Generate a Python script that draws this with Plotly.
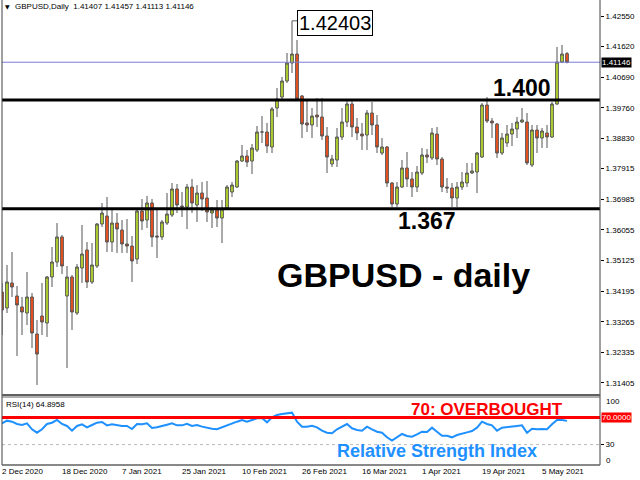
import plotly.graph_objects as go
import pandas as pd

# ---------------- data ----------------
trading_days = [d for d in pd.bdate_range("2020-12-02", "2021-05-12")
                if d not in (pd.Timestamp("2020-12-25"), pd.Timestamp("2021-01-01"))]
dates = [d.strftime("%Y-%m-%d") for d in trading_days]

opens = [1.34168, 1.33682, 1.34442, 1.34047, 1.33713, 1.33530, 1.34016, 1.32893, 1.33439, 1.33226,
         1.34624, 1.35079, 1.35839, 1.34047, 1.34624, 1.33530, 1.34897, 1.35444, 1.34472, 1.34958,
         1.36233, 1.36476, 1.35686, 1.36263, 1.36051, 1.35626, 1.35565, 1.35170, 1.36628, 1.36354,
         1.36871, 1.35869, 1.35839, 1.36263, 1.36506, 1.37296, 1.36780, 1.36749, 1.37357, 1.36810,
         1.37174, 1.37023, 1.36567, 1.36658, 1.36415, 1.36719, 1.37205, 1.37357, 1.38146, 1.38298,
         1.38146, 1.38481, 1.39027, 1.39027, 1.38572, 1.39756, 1.40090, 1.40576, 1.41123, 1.41396,
         1.40121, 1.39301, 1.39240, 1.39543, 1.39483, 1.38906, 1.38055, 1.38177, 1.38875, 1.39331,
         1.39878, 1.39179, 1.38966, 1.38936, 1.39604, 1.39240, 1.38389, 1.38572, 1.37478, 1.36840,
         1.37357, 1.37934, 1.37600, 1.37357, 1.37782, 1.38329, 1.38238, 1.38966, 1.38207, 1.37357,
         1.37326, 1.37023, 1.37357, 1.37478, 1.37782, 1.37812, 1.38268, 1.39847, 1.39361, 1.39270,
         1.38389, 1.38693, 1.38966, 1.39118, 1.39331, 1.39331, 1.38025, 1.39088, 1.38845, 1.38997,
         1.38875, 1.39878, 1.41153, 1.41407]
highs = [1.34442, 1.34988, 1.35383, 1.34351, 1.34016, 1.34776, 1.34138, 1.33318, 1.34442, 1.34654,
         1.35535, 1.36263, 1.35899, 1.34958, 1.34685, 1.35019, 1.36203, 1.35686, 1.35656, 1.36263,
         1.36871, 1.37053, 1.36658, 1.36567, 1.36354, 1.36385, 1.35869, 1.36658, 1.36992, 1.37083,
         1.36992, 1.36658, 1.36354, 1.37174, 1.37478, 1.37448, 1.37205, 1.37448, 1.37600, 1.37417,
         1.37509, 1.37539, 1.36749, 1.36962, 1.36962, 1.37417, 1.37509, 1.38177, 1.38632, 1.38481,
         1.38663, 1.39209, 1.39513, 1.39301, 1.39786, 1.40363, 1.40698, 1.41426, 1.42403, 1.41821,
         1.40151, 1.39999, 1.39756, 1.40060, 1.40060, 1.39179, 1.38329, 1.39149, 1.39756, 1.39999,
         1.39999, 1.39452, 1.39301, 1.39695, 1.39938, 1.39543, 1.38845, 1.38602, 1.37509, 1.37509,
         1.38177, 1.38420, 1.37812, 1.37995, 1.38541, 1.38511, 1.39149, 1.39179, 1.38268, 1.37630,
         1.37478, 1.37509, 1.37812, 1.38086, 1.38086, 1.38420, 1.39908, 1.40090, 1.39452, 1.39301,
         1.38997, 1.39240, 1.39301, 1.39483, 1.39756, 1.39604, 1.39240, 1.39240, 1.39149, 1.39240,
         1.39938, 1.41609, 1.41669, 1.41457]
lows = [1.32862, 1.33530, 1.34016, 1.32225, 1.32862, 1.33166, 1.32467, 1.31344, 1.32862, 1.32802,
        1.34320, 1.34927, 1.34715, 1.31860, 1.33014, 1.33470, 1.34442, 1.34290, 1.34411, 1.34897,
        1.36142, 1.35383, 1.35383, 1.35353, 1.35353, 1.35353, 1.34472, 1.35019, 1.36051, 1.36112,
        1.35535, 1.35201, 1.35747, 1.36203, 1.36446, 1.36567, 1.36446, 1.36081, 1.36567, 1.36294,
        1.36628, 1.36294, 1.36112, 1.36142, 1.35656, 1.36658, 1.37053, 1.37326, 1.38116, 1.37964,
        1.37752, 1.38420, 1.38693, 1.38389, 1.38389, 1.39483, 1.39999, 1.40515, 1.40819, 1.39999,
        1.38845, 1.39027, 1.38845, 1.39179, 1.38784, 1.37782, 1.37964, 1.37964, 1.38784, 1.39179,
        1.38875, 1.38784, 1.38481, 1.38481, 1.38936, 1.38389, 1.38329, 1.37357, 1.36749, 1.36749,
        1.37326, 1.37357, 1.37053, 1.37205, 1.37721, 1.38086, 1.38177, 1.38025, 1.37205, 1.37174,
        1.36749, 1.36749, 1.37266, 1.37357, 1.37752, 1.37174, 1.38238, 1.39301, 1.38845, 1.38238,
        1.38329, 1.38572, 1.38602, 1.38845, 1.39301, 1.38025, 1.37964, 1.38389, 1.38541, 1.38541,
        1.38845, 1.39847, 1.41123, 1.41113]
closes = [1.33622, 1.34472, 1.34320, 1.33773, 1.33561, 1.34016, 1.32923, 1.32285, 1.33257, 1.34624,
          1.35079, 1.35839, 1.34958, 1.34624, 1.33561, 1.34927, 1.35322, 1.34472, 1.34988, 1.36233,
          1.36567, 1.35686, 1.36263, 1.36081, 1.35626, 1.35565, 1.35110, 1.36628, 1.36324, 1.36871,
          1.35839, 1.35839, 1.36294, 1.36537, 1.37296, 1.36810, 1.36749, 1.37357, 1.36871, 1.37174,
          1.36992, 1.36597, 1.36658, 1.36415, 1.36689, 1.37357, 1.37417, 1.38146, 1.38298, 1.38116,
          1.38541, 1.39027, 1.39027, 1.38602, 1.39726, 1.40029, 1.40576, 1.41123, 1.41396, 1.40029,
          1.39270, 1.39240, 1.39513, 1.39483, 1.38906, 1.38268, 1.38207, 1.38875, 1.39331, 1.39878,
          1.39179, 1.38997, 1.38906, 1.39604, 1.39240, 1.38572, 1.38572, 1.37478, 1.36840, 1.37357,
          1.37934, 1.37600, 1.37357, 1.37812, 1.38329, 1.38268, 1.38997, 1.38207, 1.37357, 1.37326,
          1.37023, 1.37357, 1.37509, 1.37782, 1.37843, 1.38389, 1.39847, 1.39361, 1.39301, 1.38389,
          1.38845, 1.38966, 1.39118, 1.39331, 1.39392, 1.38086, 1.39088, 1.38845, 1.39058, 1.38875,
          1.39878, 1.41153, 1.41396, 1.41146]

rsi = [61.3, 65.2, 63.7, 60.3, 58.8, 61.3, 52.5, 47.5, 52.5, 60.3,
       62.2, 66.2, 60.3, 57.4, 50.5, 57.4, 59.8, 55.4, 58.8, 62.2,
       63.2, 58.3, 59.8, 58.3, 57.4, 57.4, 52.9, 60.3, 59.8, 61.3,
       54.4, 55.4, 57.8, 59.3, 61.3, 58.3, 58.3, 60.7, 57.4, 58.8,
       56.4, 54.4, 53.4, 52.5, 55.4, 58.8, 60.7, 63.7, 66.2, 63.7,
       66.2, 68.6, 69.1, 62.7, 70.1, 73.5, 75.0, 76.0, 77.0, 63.7,
       56.4, 56.4, 57.8, 55.4, 50.5, 47.5, 46.6, 52.5, 56.4, 60.3,
       54.0, 51.5, 50.5, 56.4, 52.5, 49.0, 47.5, 40.7, 35.8, 40.2,
       45.6, 42.6, 41.7, 45.1, 49.0, 48.5, 54.9, 49.0, 43.1, 43.0,
       40.7, 44.1, 46.6, 48.0, 50.0, 54.9, 63.7, 60.3, 58.3, 50.5,
       54.9, 55.4, 56.4, 57.4, 58.3, 47.5, 53.4, 52.5, 52.9, 52.5,
       59.8, 66.2, 66.2, 64.8958]

date_tick_vals = ["2020-12-02", "2020-12-18", "2021-01-07", "2021-01-25", "2021-02-10",
                  "2021-02-26", "2021-03-16", "2021-04-01", "2021-04-19", "2021-05-05"]
date_tick_text = ["2 Dec 2020", "18 Dec 2020", "7 Jan 2021", "25 Jan 2021", "10 Feb 2021",
                  "26 Feb 2021", "16 Mar 2021", "1 Apr 2021", "19 Apr 2021", "5 May 2021"]
price_ticks = [1.42550, 1.41620, 1.40690, 1.39760, 1.38830, 1.37915, 1.36985,
               1.36055, 1.35125, 1.34195, 1.33265, 1.32335, 1.31405]
price_tick_text = [f"{v:.5f}" for v in price_ticks]

resistance = 1.400
support = 1.367
peak_high = 1.42403
last_price = 1.41146
rsi_overbought = 70
rsi_oversold = 30

# ---------------- layout helpers (pixel -> paper) ----------------
W, H = 640, 480
L, R, T, B = 2, 40, 0, 15
PW, PH = W - L - R, H - T - B
def px(x):
    return (x - L) / PW
def py(y):
    return (H - B - y) / PH

MAIN_BOTTOM = py(395)
RSI_TOP = py(397)

FONT = "Liberation Sans, Arial, sans-serif"
BULL = "#B8DC2C"
BEAR = "#F8501A"
OUTLINE = "#555555"
RSI_BLUE = "#1E90FF"

fig = go.Figure()
fig.add_trace(go.Candlestick(
    x=dates, open=opens, high=highs, low=lows, close=closes,
    increasing=dict(fillcolor=BULL, line=dict(color=OUTLINE, width=1)),
    decreasing=dict(fillcolor=BEAR, line=dict(color=OUTLINE, width=1)),
    whiskerwidth=0, xaxis="x", yaxis="y", hoverinfo="skip", showlegend=False))
fig.add_trace(go.Scatter(
    x=dates, y=rsi, mode="lines", line=dict(color=RSI_BLUE, width=2),
    xaxis="x2", yaxis="y2", hoverinfo="skip", showlegend=False))

shapes = [
    dict(type="line", xref="paper", yref="y", x0=0, x1=1, y0=last_price, y1=last_price,
         line=dict(color="#7B7BD6", width=1)),
    dict(type="line", xref="paper", yref="y", x0=0, x1=1, y0=resistance, y1=resistance,
         line=dict(color="black", width=3)),
    dict(type="line", xref="paper", yref="y", x0=0, x1=1, y0=support, y1=support,
         line=dict(color="black", width=3)),
    dict(type="line", xref="x", yref="y", x0=58, x1=59.6, y0=peak_high, y1=peak_high,
         line=dict(color="#606060", width=1)),
    dict(type="line", xref="paper", yref="y2", x0=0, x1=1, y0=rsi_oversold, y1=rsi_oversold,
         line=dict(color="#BBBBBB", width=1, dash="dot")),
    dict(type="line", xref="paper", yref="y2", x0=0, x1=1, y0=rsi_overbought, y1=rsi_overbought,
         line=dict(color="#FF0000", width=3)),
    # frames
    dict(type="line", xref="paper", yref="paper", x0=0, x1=0, y0=0, y1=1,
         line=dict(color="#404040", width=1)),
    dict(type="line", xref="paper", yref="paper", x0=1, x1=1, y0=0, y1=1,
         line=dict(color="#404040", width=1)),
    dict(type="line", xref="paper", yref="paper", x0=0, x1=1, y0=MAIN_BOTTOM, y1=MAIN_BOTTOM,
         line=dict(color="#606060", width=2)),
    dict(type="line", xref="paper", yref="paper", x0=0, x1=1, y0=RSI_TOP, y1=RSI_TOP,
         line=dict(color="#606060", width=1)),
    dict(type="line", xref="paper", yref="paper", x0=0, x1=1, y0=0, y1=0,
         line=dict(color="#606060", width=1.5)),
]

ann = []
def text(x, y, s, size, color="black", bold=False, xanchor="center", **kw):
    d = dict(xref="paper", yref="paper", x=px(x), y=py(y), text=(f"<b>{s}</b>" if bold else s),
             showarrow=False, xanchor=xanchor, yanchor="middle",
             font=dict(family=FONT, size=size, color=color))
    d.update(kw)
    ann.append(d)

text(3, 7, "▼", 7, xanchor="left", font=dict(family="DejaVu Sans", size=6, color="black"))
text(13, 7, "GBPUSD,Daily  1.41407 1.41457 1.41113 1.41146", 8, xanchor="left")
text(4, 404, "RSI(14) 64.8958", 8, xanchor="left")
text(334.5, 23, f"{peak_high:.5f}", 20, bordercolor="black", borderwidth=1, bgcolor="white", borderpad=1)
text(522, 88, f"{resistance:.3f}", 23, bold=True)
text(427, 221, f"{support:.3f}", 23, bold=True)
text(403, 275, "GBPUSD - daily", 34, bold=True)
text(487, 409, "70: OVERBOUGHT", 17, color="#FF0000", bold=True)
text(437, 451, "Relative Strength Index", 18, color=RSI_BLUE, bold=True)
text(604, 401.5, "100", 8, xanchor="left")
text(604, 460, "0", 8, xanchor="left")
ann.append(dict(xref="paper", yref="y", x=1, y=last_price, xanchor="left", yanchor="middle",
                xshift=1, text=f"{last_price:.5f}", showarrow=False, bgcolor="black", borderpad=0,
                font=dict(family=FONT, size=8, color="white")))
ann.append(dict(xref="paper", yref="y2", x=1, y=rsi_overbought, xanchor="left", yanchor="middle",
                xshift=1, text="70.0000", showarrow=False, bgcolor="#FF0000", borderpad=0,
                font=dict(family=FONT, size=8, color="white")))

fig.update_layout(
    width=W, height=H, margin=dict(l=L, r=R, t=T, b=B, autoexpand=False),
    paper_bgcolor="white", plot_bgcolor="white", showlegend=False,
    boxgap=0.22,
    font=dict(family=FONT, size=8, color="black"),
    xaxis=dict(type="category", range=[0, 119.6], domain=[0, 1], anchor="y",
               showticklabels=False, showgrid=False, zeroline=False, showline=False,
               rangeslider=dict(visible=False), ticks=""),
    xaxis2=dict(type="category", matches="x", anchor="y2", domain=[0, 1],
                tickvals=date_tick_vals, ticktext=date_tick_text,
                ticklabelposition="outside right", ticks="", showgrid=False, zeroline=False,
                tickfont=dict(family=FONT, size=8, color="black")),
    yaxis=dict(domain=[MAIN_BOTTOM, 1], range=[1.3104, 1.43036], side="right", anchor="x",
               tickvals=price_ticks, ticktext=price_tick_text, ticks="outside", ticklen=3,
               tickcolor="black", showgrid=False, zeroline=False,
               tickfont=dict(family=FONT, size=8, color="black")),
    yaxis2=dict(domain=[0, RSI_TOP], range=[0, 100], side="right", anchor="x2",
                tickvals=[rsi_oversold], ticktext=["30"], ticks="outside", ticklen=3,
                tickcolor="black", showgrid=False, zeroline=False,
                tickfont=dict(family=FONT, size=8, color="black")),
    shapes=shapes, annotations=ann,
)

fig.write_html("out.html", config={"displayModeBar": False},
               post_script="document.body.style.margin='0';document.body.style.padding='0';")
